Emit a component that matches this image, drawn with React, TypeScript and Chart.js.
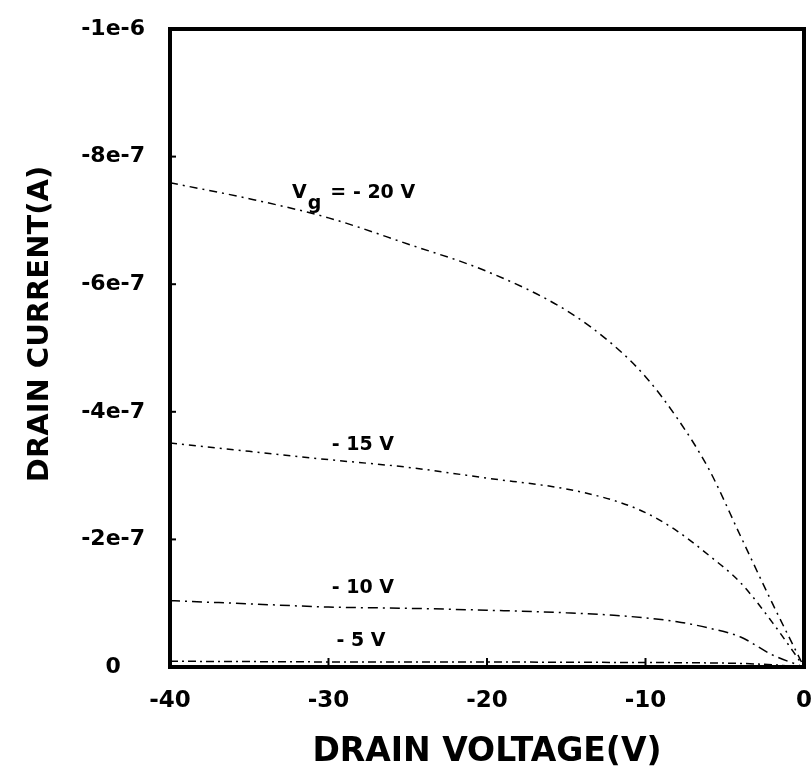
import React, { useEffect, useRef } from 'react';
import { Chart, registerables } from 'chart.js';

Chart.register(...registerables);

// ---- data ----
const drainVoltage = [-40, -35, -30, -25, -20, -15, -12, -10, -8, -6, -4, -2, 0];
const currentVg20 = [-7.59e-7, -7.34e-7, -7.04e-7, -6.63e-7, -6.2e-7, -5.59e-7, -5.04e-7, -4.55e-7, -3.9e-7, -3.1e-7, -2.05e-7, -1.0e-7, 0];
const currentVg15 = [-3.51e-7, -3.38e-7, -3.25e-7, -3.13e-7, -2.96e-7, -2.79e-7, -2.61e-7, -2.42e-7, -2.13e-7, -1.75e-7, -1.32e-7, -0.7e-7, 0];
const currentVg10 = [-1.04e-7, -0.99e-7, -0.94e-7, -0.92e-7, -0.89e-7, -0.85e-7, -0.81e-7, -0.77e-7, -0.71e-7, -0.61e-7, -0.47e-7, -0.19e-7, 0];
const currentVg5 = [-0.09e-7, -0.085e-7, -0.08e-7, -0.08e-7, -0.078e-7, -0.075e-7, -0.072e-7, -0.07e-7, -0.068e-7, -0.064e-7, -0.056e-7, -0.035e-7, 0];

const xTickValues = [-40, -30, -20, -10, 0];
const yTickValues = [0, -2e-7, -4e-7, -6e-7, -8e-7, -1e-6];

const xAxisTitle = 'DRAIN VOLTAGE(V)';
const yAxisTitle = 'DRAIN CURRENT(A)';

// curve annotations (anchor = left end of text baseline, in data units)
const labelMain = ['V', '- 15 V', '- 10 V', '- 5 V'];
const labelSub = ['g', '', '', ''];
const labelRest = ['= - 20 V', '', '', ''];
const labelVoltage = [-32.3, -29.8, -29.8, -29.5];
const labelCurrent = [-7.35e-7, -3.4e-7, -1.16e-7, -0.33e-7];

const FONT = '"DejaVu Sans", "Liberation Sans", Arial, sans-serif';

const decorPlugin = {
  id: 'decor',
  afterDraw(chart: any) {
    const { ctx, chartArea: a, scales } = chart;
    const xs = scales.x;
    const ys = scales.y;
    ctx.save();
    // inward tick marks
    ctx.strokeStyle = '#000';
    ctx.lineWidth = 2;
    xTickValues.forEach((v) => {
      const px = xs.getPixelForValue(v);
      ctx.beginPath();
      ctx.moveTo(px, a.bottom);
      ctx.lineTo(px, a.bottom - 9);
      ctx.stroke();
    });
    yTickValues.forEach((v) => {
      const py = ys.getPixelForValue(v);
      ctx.beginPath();
      ctx.moveTo(a.left, py);
      ctx.lineTo(a.left + 6, py);
      ctx.stroke();
    });
    // frame
    ctx.lineWidth = 4;
    ctx.strokeRect(a.left, a.top, a.right - a.left, a.bottom - a.top);

    // curve labels
    ctx.fillStyle = '#000';
    ctx.textBaseline = 'alphabetic';
    ctx.textAlign = 'left';
    ctx.font = `bold 19px ${FONT}`;
    labelMain.forEach((t, i) => {
      const px = xs.getPixelForValue(labelVoltage[i]);
      const py = ys.getPixelForValue(labelCurrent[i]);
      ctx.fillText(t, px, py);
      let x = px + ctx.measureText(t).width;
      if (labelSub[i]) {
        ctx.fillText(labelSub[i], x + 1, py + 11);
        x += ctx.measureText(labelSub[i]).width + 10;
      }
      if (labelRest[i]) ctx.fillText(labelRest[i], x, py);
    });

    // axis titles
    ctx.font = `bold 33px ${FONT}`;
    ctx.textAlign = 'center';
    ctx.textBaseline = 'middle';
    ctx.fillText(xAxisTitle, (a.left + a.right) / 2, 752);
    ctx.save();
    ctx.translate(40, 324);
    ctx.rotate(-Math.PI / 2);
    ctx.font = `bold 29px ${FONT}`;
    ctx.fillText(yAxisTitle, 0, 0);
    ctx.restore();
    ctx.restore();
  },
};

export default function App() {
  const ref = useRef<HTMLCanvasElement | null>(null);
  useEffect(() => {
    if (!ref.current) return;
    const mk = (data: number[], dash: number[]) => ({
      data: drainVoltage.map((v, i) => ({ x: v, y: data[i] })),
      borderColor: '#000',
      borderWidth: 1.5,
      borderDash: dash,
      pointRadius: 0,
      cubicInterpolationMode: 'monotone' as const,
      fill: false,
    });
    const chart = new Chart(ref.current, {
      type: 'line',
      data: {
        datasets: [
          mk(currentVg20, [8, 5, 2, 5]),
          mk(currentVg15, [7, 5, 2, 5]),
          mk(currentVg10, [10, 5, 2, 5]),
          mk(currentVg5, [8, 4, 2, 4]),
        ],
      },
      plugins: [decorPlugin],
      options: {
        responsive: false,
        animation: false,
        events: [],
        layout: { padding: { top: 29, right: 8, left: 0, bottom: 0 } },
        plugins: { legend: { display: false }, tooltip: { enabled: false } },
        scales: {
          x: {
            type: 'linear',
            min: -40,
            max: 0,
            afterFit: (s: any) => { s.height = 109; s.paddingLeft = 0; s.paddingRight = 0; s.paddingTop = 0; s.paddingBottom = 0; },
            afterBuildTicks: (s: any) => { s.ticks = xTickValues.map((v) => ({ value: v })); },
            grid: { display: false, drawTicks: false },
            border: { display: false },
            ticks: {
              color: '#000',
              padding: 20,
              font: { family: FONT, size: 23, weight: 'bold' },
              callback: (v: any) => String(v),
            },
          },
          y: {
            type: 'linear',
            min: -1e-6,
            max: 0,
            reverse: true,
            afterFit: (s: any) => { s.width = 170; s.paddingLeft = 0; s.paddingRight = 0; s.paddingTop = 0; s.paddingBottom = 0; },
            afterBuildTicks: (s: any) => { s.ticks = yTickValues.map((v) => ({ value: v })); },
            grid: { display: false, drawTicks: false },
            border: { display: false },
            ticks: {
              color: '#000',
              padding: 25,
              crossAlign: 'center',
              font: { family: FONT, size: 22, weight: 'bold' },
              callback: (v: any) => (Number(v) === 0 ? '0' : Number(v).toExponential(0).replace('+', '')),
            },
          },
        },
      },
    } as any);
    return () => chart.destroy();
  }, []);
  return (
    <div style={{ position: 'fixed', left: 0, top: 0, width: 812, height: 776, background: '#fff' }}>
      <canvas ref={ref} width={812} height={776} style={{ width: 812, height: 776 }} />
    </div>
  );
}
